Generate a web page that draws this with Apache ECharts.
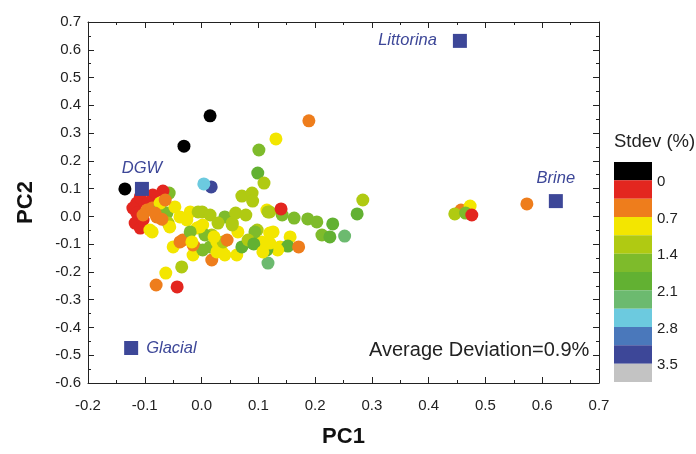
<!DOCTYPE html>
<html>
<head>
<meta charset="utf-8">
<script src="https://cdn.jsdelivr.net/npm/echarts@6/dist/echarts.min.js"></script>
<style>
  html, body { margin: 0; padding: 0; background: #fff; }
  #chart { width: 696px; height: 454px; }
</style>
</head>
<body>
<div id="chart"></div>
<script>
// Sample scores on the first two principal components, coloured by stdev (%)
const pc1 = [
  -0.135, -0.031, 0.015, 0.017, 0.004,
  0.189, 0.131, 0.101, 0.099, 0.110, 0.071, 0.089, 0.090,
  0.115, 0.120, 0.142, 0.140, 0.163, 0.187, 0.203, 0.231, 0.284, 0.274,
  0.212, 0.226, 0.252, 0.126, 0.156, 0.138, 0.152, 0.171, 0.117,
  0.573, 0.457, 0.473, 0.446, 0.465, 0.476,
  -0.087, -0.050, -0.033, -0.012, -0.015, 0.018, 0.041, 0.062, 0.071, 0.090,
  0.098, 0.134, 0.115, -0.035, -0.063, -0.080, -0.043, 0.015, 0.027, 0.002, 0.036,
  -0.020, 0.001, 0.015, 0.041, 0.029, 0.054, 0.002, -0.008, 0.064, 0.018,
  0.027, 0.038, 0.045, -0.015, 0.106, 0.120, 0.117,
  0.006, -0.003, 0.022, 0.054, 0.094, 0.082, 0.092, 0.120, 0.108, 0.060, 0.078, -0.006,
  -0.057, -0.068, -0.108, -0.086, -0.114, -0.094, -0.121, -0.114, -0.117, -0.108,
  -0.103, -0.096, -0.103, -0.079, -0.087, -0.073, -0.061, -0.059, -0.073, -0.047,
  -0.038, -0.026, -0.091, -0.020, -0.056, -0.038, -0.017, -0.064, -0.082, -0.070
];
const pc2 = [
  0.099, 0.253, 0.362, 0.106, 0.117,
  0.344, 0.279, 0.239, 0.156, 0.120, 0.073, 0.084, 0.055,
  0.023, 0.016, 0.005, 0.027, -0.006, -0.009, -0.020, -0.027, 0.059, 0.009,
  -0.067, -0.074, -0.071, -0.056, -0.074, -0.110, -0.107, -0.110, -0.168,
  0.045, 0.023, 0.037, 0.009, 0.012, 0.005,
  -0.056, -0.110, -0.085, -0.110, -0.139, -0.157, -0.139, -0.139, -0.110, -0.096,
  -0.049, -0.121, -0.121, -0.182, -0.204, -0.247, -0.254, -0.110, -0.128, -0.121, -0.128,
  0.016, 0.016, 0.005, -0.002, -0.024, -0.024, -0.031, -0.042, -0.056, -0.067,
  -0.092, -0.092, -0.085, -0.103, -0.092, -0.096, 0.016,
  -0.067, -0.038, -0.074, -0.031, -0.056, -0.085, -0.099, -0.060, -0.128, 0.012, 0.005, 0.016,
  0.084, 0.091, 0.070, 0.077, 0.048, 0.048, 0.030, 0.012, -0.024, -0.042,
  -0.013, 0.023, 0.005, -0.002, 0.030, 0.034, 0.012, -0.024, 0.048, 0.034,
  -0.002, -0.013, -0.049, -0.056, -0.038, -0.092, -0.092, 0.059, 0.012, -0.010
];
const stdev = [
  0, 0, 0, 3.3, 2.6,
  0.5, 0.9, 1.6, 1.9, 1.2, 1.2, 1.2, 1.2,
  0.9, 1.2, 1.6, 0.2, 1.6, 1.6, 1.6, 1.9, 1.2, 1.9,
  1.6, 1.9, 2.3, 0.9, 0.9, 0.9, 1.9, 0.5, 2.3,
  0.5, 0.5, 0.9, 1.2, 1.6, 0.2,
  0.9, 0.9, 0.5, 0.5, 0.9, 0.5, 0.9, 0.9, 1.9, 1.9,
  1.2, 0.9, 1.9, 1.2, 0.9, 0.5, 0.2, 1.6, 0.9, 1.6, 0.9,
  0.9, 1.2, 1.2, 1.6, 1.2, 1.2, 0.9, 0.9, 0.9, 1.2,
  0.9, 1.2, 0.5, 0.5, 0.9, 0.9, 1.2,
  1.6, 0.9, 0.9, 1.2, 1.6, 1.2, 1.9, 0.9, 0.9, 1.2, 1.2, 1.2,
  1.6, 0.2, 0.2, 0.2, 0.2, 0.2, 0.2, 0.2, 0.2, 0.2,
  0.2, 0.5, 0.5, 0.5, 0.5, 1.6, 1.6, 1.2, 0.9, 0.9,
  0.9, 0.9, 0.9, 1.6, 0.9, 0.5, 0.9, 0.5, 0.5, 0.5
];

// End-member water types
const endNames = ['DGW', 'Glacial', 'Littorina', 'Brine'];
const endPC1 = [-0.105, -0.124, 0.455, 0.624];
const endPC2 = [0.099, -0.474, 0.632, 0.055];
const endLabelPos = ['top', 'right', 'left', 'top'];
const endLabelGap = [5, 8, 16, 7];

// Colour classes of the stdev scale (step 0.35 %)
const classColors = ['#000000', '#e3261f', '#ee7d1c', '#f3e600', '#b0ca12', '#7ebb2b',
  '#62b132', '#6cba6f', '#6ccadf', '#4a78bb', '#3d4798', '#c3c3c3'];
const classStep = 0.35;
const scaleTicks = ['0', '0.7', '1.4', '2.1', '2.8', '3.5'];

const samples = pc1.map((x, i) => [x, pc2[i], stdev[i]]);
const endMembers = endPC1.map((x, i) => ({
  value: [x, endPC2[i]],
  name: endNames[i],
  label: { position: endLabelPos[i], distance: endLabelGap[i] }
}));

const pieces = classColors.map((c, i) => {
  if (i === 0) return { lte: 0, color: c };
  if (i === classColors.length - 1) return { gt: (i - 1) * classStep, color: c };
  return { gt: (i - 1) * classStep, lte: i * classStep, color: c };
});

const FONT = 'Liberation Sans, Arial, sans-serif';
const legLeft = 614, legTop = 162, legItemH = 18.33, legItemW = 38;

const chart = echarts.init(document.getElementById('chart'), null, { renderer: 'canvas' });

const axisCommon = {
  type: 'value',
  axisLine: { show: true, onZero: false, lineStyle: { color: '#222', width: 1 } },
  axisTick: { show: true, inside: true, length: 6, lineStyle: { color: '#222' } },
  minorTick: { show: true, splitNumber: 2, length: 3, lineStyle: { color: '#222' } },
  splitLine: { show: false },
  minorSplitLine: { show: false }
};

chart.setOption({
  animation: false,
  backgroundColor: '#fff',
  grid: { left: 88, right: 97, top: 22, bottom: 71, outerBoundsMode: 'none', containLabel: false },
  xAxis: [
    Object.assign({}, axisCommon, {
      position: 'bottom', min: -0.2, max: 0.7, interval: 0.1,
      name: 'PC1', nameLocation: 'middle', nameGap: 43,
      nameTextStyle: { fontFamily: FONT, fontSize: 22, fontWeight: 'bold', color: '#111' },
      axisLabel: { show: true, margin: 15, fontFamily: FONT, fontSize: 15, color: '#222',
        showMinLabel: true, showMaxLabel: true, hideOverlap: false,
        formatter: v => v.toFixed(1) }
    }),
    Object.assign({}, axisCommon, {
      position: 'top', min: -0.2, max: 0.7, interval: 0.1,
      axisLabel: { show: false }
    })
  ],
  yAxis: [
    Object.assign({}, axisCommon, {
      position: 'left', min: -0.6, max: 0.7, interval: 0.1,
      name: 'PC2', nameLocation: 'middle', nameGap: 51, nameRotate: 90,
      nameTextStyle: { fontFamily: FONT, fontSize: 22, fontWeight: 'bold', color: '#111' },
      axisLabel: { show: true, margin: 7, fontFamily: FONT, fontSize: 15, color: '#222',
        showMinLabel: true, showMaxLabel: true, hideOverlap: false,
        formatter: v => v.toFixed(1) }
    }),
    Object.assign({}, axisCommon, {
      position: 'right', min: -0.6, max: 0.7, interval: 0.1,
      axisLabel: { show: false }
    })
  ],
  visualMap: {
    type: 'piecewise',
    seriesIndex: 0,
    dimension: 2,
    pieces: pieces,
    inverse: true,
    orient: 'vertical',
    left: legLeft,
    top: legTop,
    itemWidth: legItemW,
    itemHeight: legItemH,
    itemGap: 0,
    itemSymbol: 'rect',
    showLabel: false,
    padding: 0,
    hoverLink: false,
    selectedMode: false
  },
  graphic: [
    { type: 'text', left: legLeft, top: 132,
      style: { text: 'Stdev (%)', fontFamily: FONT, fontSize: 18.5, fill: '#222' } },
    ...scaleTicks.map((t, i) => ({
      type: 'text', left: 657, top: legTop + (2 * i + 1) * legItemH - 6,
      style: { text: t, fontFamily: FONT, fontSize: 15, fill: '#222' }
    })),
    { type: 'text', left: 369, top: 340,
      style: { text: 'Average Deviation=0.9%', fontFamily: FONT, fontSize: 20, fill: '#222' } }
  ],
  series: [
    {
      type: 'scatter',
      data: samples,
      symbol: 'circle',
      symbolSize: 13,
      itemStyle: { opacity: 1 }
    },
    {
      type: 'scatter',
      data: endMembers,
      symbol: 'rect',
      symbolSize: 14,
      itemStyle: { color: '#3d4798', opacity: 1 },
      label: {
        show: true,
        formatter: '{b}',
        fontFamily: FONT,
        fontSize: 16.5,
        fontStyle: 'italic',
        color: '#3d4798'
      }
    }
  ]
});
</script>
</body>
</html>
